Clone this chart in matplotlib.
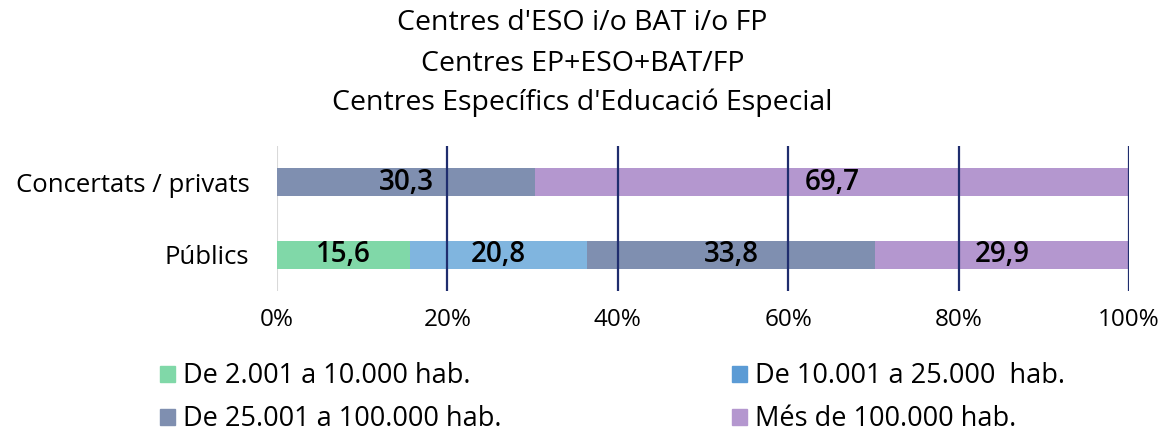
import matplotlib.pyplot as plt
from matplotlib.patches import Patch

categories = ['Públics', 'Concertats / privats']
series_names = ['De 2.001 a 10.000 hab.', 'De 10.001 a 25.000  hab.',
                'De 25.001 a 100.000 hab.', 'Més de 100.000 hab.']
# values per series: [Públics, Concertats / privats]
small_towns = [15.6, 0.0]
mid_towns = [20.8, 0.0]
large_towns = [33.8, 30.3]
cities = [29.9, 69.7]
series = [small_towns, mid_towns, large_towns, cities]

bar_colors = ['#80d8a8', '#80b5df', '#7f8fb0', '#b497cf']
legend_colors = ['#80d8a8', '#5b9bd5', '#7f8fb0', '#b497cf']

plt.rcParams['font.family'] = ['Open Sans', 'DejaVu Sans']

fig = plt.figure(figsize=(11.65, 4.34), dpi=100)
ax = fig.add_axes([0.2378, 0.3295, 0.7313, 0.3341])

ypos = list(range(len(categories)))
left = [0.0] * len(categories)
for vals, col in zip(series, bar_colors):
    ax.barh(ypos, vals, left=left, height=0.39, color=col, zorder=2)
    for i, v in enumerate(vals):
        if v > 0:
            ax.text(left[i] + v / 2, ypos[i], ('%.1f' % v).replace('.', ','),
                    ha='center', va='center', fontsize=20, color='black',
                    fontweight='semibold', zorder=4)
    left = [a + b for a, b in zip(left, vals)]

ax.set_xlim(0, 100)
ax.set_ylim(-0.5, 1.5)
for x in [20, 40, 60, 80, 100]:
    ax.axvline(x, color='#1f2d6e', lw=1.6, zorder=3)
ax.axvline(0, color='#d9d9d9', lw=1.5, zorder=1)

ax.set_xticks([0, 20, 40, 60, 80, 100])
ax.set_xticklabels(['0%', '20%', '40%', '60%', '80%', '100%'], fontsize=17.5)
ax.set_yticks(ypos)
ax.set_yticklabels(categories, fontsize=18.5)
ax.tick_params(length=0, pad=12)
ax.tick_params(axis='y', pad=20)
for s in ax.spines.values():
    s.set_visible(False)

title_lines = ["Centres d'ESO i/o BAT i/o FP", 'Centres EP+ESO+BAT/FP',
               "Centres Específics d'Educació Especial"]
for y, line in zip([0.948, 0.852, 0.763], title_lines):
    fig.text(0.5, y, line, ha='center', va='center', fontsize=20.5, fontweight='medium')

order = [0, 2, 1, 3]
handles = [Patch(color=legend_colors[i]) for i in order]
labels = [series_names[i] for i in order]
fig.legend(handles, labels, ncol=2, loc='upper left', bbox_to_anchor=(0.128, 0.19),
           frameon=False, fontsize=19.5, handlelength=0.55, handleheight=0.55,
           handletextpad=0.3, columnspacing=8.5, labelspacing=0.55,
           borderaxespad=0)

fig.savefig('out.png', dpi=100)
